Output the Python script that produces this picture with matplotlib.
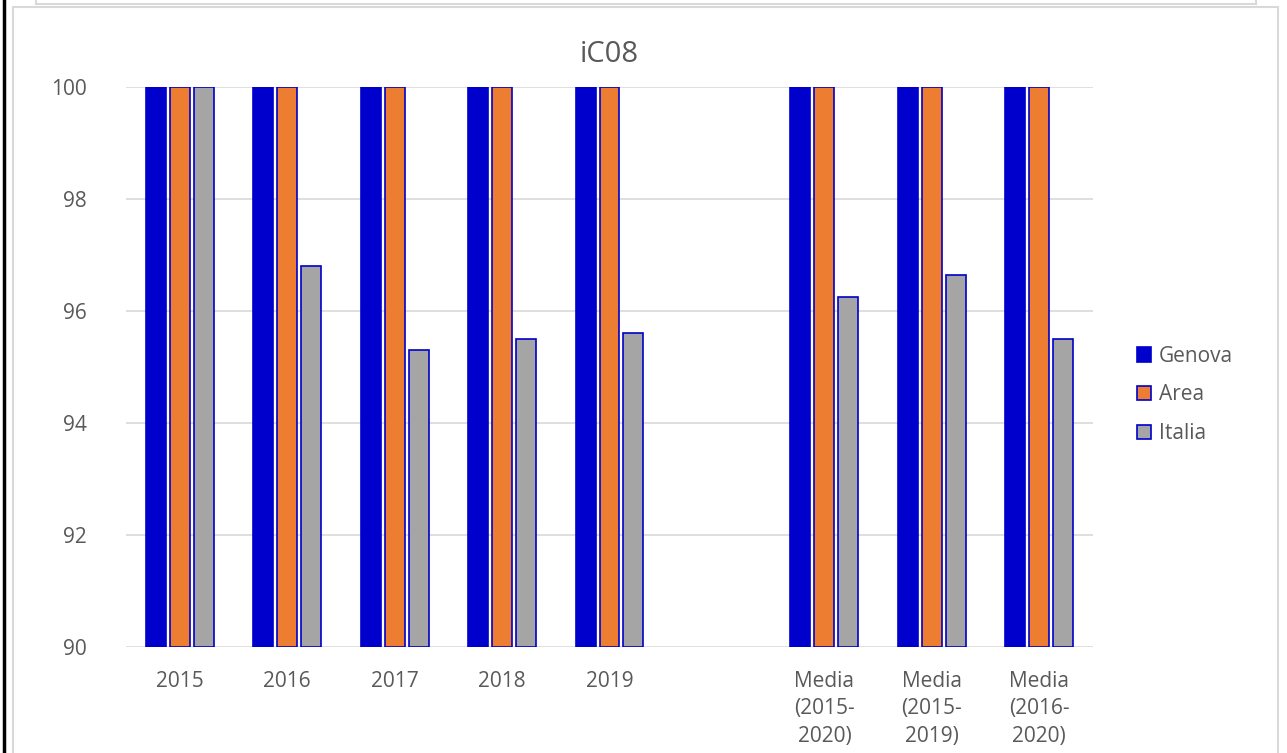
import matplotlib
matplotlib.use("Agg")
import matplotlib.pyplot as plt
import numpy as np
from matplotlib.patches import Rectangle
from matplotlib.lines import Line2D

categories = ["2015", "2016", "2017", "2018", "2019", "",
              "Media\n(2015-\n2020)", "Media\n(2015-\n2019)", "Media\n(2016-\n2020)"]
genova = [100, 100, 100, 100, 100, np.nan, 100, 100, 100]
area = [100, 100, 100, 100, 100, np.nan, 100, 100, 100]
italia = [100, 96.8, 95.3, 95.5, 95.6, np.nan, 96.25, 96.65, 95.5]
series_names = ["Genova", "Area", "Italia"]
colors = ["#0000CC", "#ED7D31", "#A5A5A5"]
edge = "#0000CC"

plt.rcParams['font.family'] = ['Open Sans', 'DejaVu Sans']
W, H = 1287, 753
fig = plt.figure(figsize=(W/100, H/100), dpi=100)

# Outer decorations
fig.add_artist(Line2D([4/W, 4/W], [0, 1], color="black", lw=2.5))
fig.add_artist(Rectangle((13/W, -0.01), (1278-13)/W, (753-7)/H + 0.01,
                         fill=False, ec="#D9D9D9", lw=1.5, transform=fig.transFigure))
fig.add_artist(Line2D([36/W, 1256/W], [1-4/H, 1-4/H], color="#D9D9D9", lw=1.5))
fig.add_artist(Line2D([36/W, 36/W], [1-4/H, 1.01], color="#D9D9D9", lw=1.5))
fig.add_artist(Line2D([1256/W, 1256/W], [1-4/H, 1.01], color="#D9D9D9", lw=1.5))

ax = fig.add_axes([126/W, 1-647/H, (1093-126)/W, (647-87)/H])
x = np.arange(len(categories))
step = 24/107.5
bw = 20/107.5
data = [genova, area, italia]
for i, (vals, c, name) in enumerate(zip(data, colors, series_names)):
    ax.bar(x + (i-1)*step, np.array(vals) - 90, bottom=90, width=bw, color=c,
           edgecolor=edge, linewidth=1.2, label=name, zorder=3)

ax.set_xlim(-0.5, len(categories)-0.5)
ax.set_ylim(90, 100)
ax.set_yticks([90, 92, 94, 96, 98, 100])
ax.set_xticks(x)
ax.set_xticklabels(categories, linespacing=1.42)
ax.tick_params(axis='both', length=0, labelsize=15, colors="#595959")
ax.tick_params(axis='x', pad=17)
ax.tick_params(axis='y', pad=28)
ax.grid(axis='y', color="#D9D9D9", lw=1.2, zorder=0)
for s in ax.spines.values():
    s.set_visible(False)
ax.set_title("iC08", fontsize=21, color="#595959", pad=18)

handles = [Rectangle((0, 0), 1, 1, fc=c, ec=edge, lw=1.2) for c in colors]
fig.legend(handles, series_names, loc="center left", bbox_to_anchor=(1118/W, 1-395/H),
           frameon=False, fontsize=15, labelcolor="#595959", handlelength=0.7,
           handleheight=0.7, handletextpad=0.35, labelspacing=0.85)

fig.savefig("out.png", dpi=100)
